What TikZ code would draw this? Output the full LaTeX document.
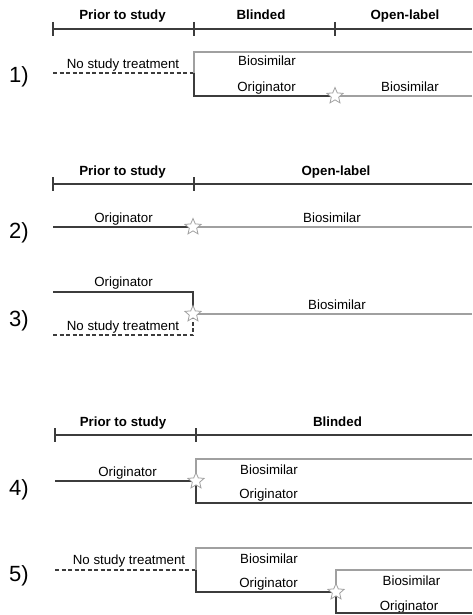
\documentclass[tikz,border=0pt]{standalone}
\usepackage{fontspec}
\setmainfont{Liberation Sans}
\usepackage{xcolor}
\usetikzlibrary{shapes.geometric, positioning}

\definecolor{darkline}{HTML}{3C3C3C}
\definecolor{lightline}{HTML}{A0A0A0}

\begin{document}
\begin{tikzpicture}[x=1pt, y=-1pt,
    hdr/.style={font=\bfseries\fontsize{13.3}{16}\selectfont, anchor=base, inner sep=0pt},
    lbl/.style={font=\fontsize{13.3}{16}\selectfont, anchor=base, inner sep=0pt},
    num/.style={font=\fontsize{22}{26}\selectfont, anchor=base west, inner sep=0pt},
    axis/.style={draw=darkline, line width=1.6pt},
    orig/.style={draw=darkline, line width=1.6pt},
    bios/.style={draw=lightline, line width=1.6pt},
    nostudy/.style={draw=darkline, line width=1.6pt, dash pattern=on 4pt off 2.5pt},
    swap/.style={star, star points=5, star point ratio=2.2, draw=lightline, fill=white, line width=0.8pt, minimum size=17pt, inner sep=0pt}]
    \useasboundingbox (0,0) rectangle (472,615);

    % Scenario 1: blinded then open-label
    \node[hdr] (h1a) at (122.5,20) {Prior to study};
    \node[hdr] (h1b) at (261,20) {Blinded};
    \node[hdr] (h1c) at (405,20) {Open-label};
    \draw[axis] (53,29) -- (472,29);
    \foreach \x in {53,194,335} \draw[axis] (\x,22) -- (\x,36);
    \node[num] (n1) at (9,83) {1)};
    \node[lbl] (l1a) at (123,68.5) {No study treatment};
    \node[lbl] (l1b) at (267,66) {Biosimilar};
    \node[lbl] (l1c) at (266.5,92) {Originator};
    \node[lbl] (l1d) at (410,92) {Biosimilar};
    \coordinate (a1) at (53,73);
    \coordinate (j1) at (194,73);
    \coordinate (b1) at (472,52);
    \coordinate (s1) at (335,96);
    \coordinate (e1) at (472,96);
    \draw[nostudy] (a1) -- (j1);
    \draw[bios] (j1) |- (b1);
    \draw[orig] (j1) |- (s1);
    \draw[bios] (s1) -- (e1);
    \node[swap] (st1) at (s1) {};

    % Scenario 2: switch at start of open-label
    \node[hdr] (h2a) at (122.5,175.5) {Prior to study};
    \node[hdr] (h2b) at (336,175.5) {Open-label};
    \draw[axis] (53,184) -- (472,184);
    \foreach \x in {53,194} \draw[axis] (\x,177) -- (\x,191);
    \node[num] (n2) at (9,238.5) {2)};
    \node[lbl] (l2a) at (123.5,222) {Originator};
    \node[lbl] (l2b) at (332,222) {Biosimilar};
    \coordinate (a2) at (53,227);
    \coordinate (s2) at (193,227);
    \coordinate (e2) at (472,227);
    \draw[orig] (a2) -- (s2);
    \draw[bios] (s2) -- (e2);
    \node[swap] (st2) at (s2) {};

    % Scenario 3
    \node[num] (n3) at (9,326.5) {3)};
    \node[lbl] (l3a) at (123.5,286.5) {Originator};
    \node[lbl] (l3b) at (337,309) {Biosimilar};
    \node[lbl] (l3c) at (123,330.5) {No study treatment};
    \coordinate (a3) at (53,292);
    \coordinate (d3) at (53,335);
    \coordinate (s3) at (193,314);
    \coordinate (e3) at (472,314);
    \draw[orig] (a3) -| (s3);
    \draw[nostudy] (d3) -| (s3);
    \draw[bios] (s3) -- (e3);
    \node[swap] (st3) at (s3) {};

    % Scenario 4: switch at randomisation
    \node[hdr] (h4a) at (123,426) {Prior to study};
    \node[hdr] (h4b) at (337.5,426) {Blinded};
    \draw[axis] (55,435) -- (472,435);
    \foreach \x in {55,196} \draw[axis] (\x,428) -- (\x,442);
    \node[num] (n4) at (9,495) {4)};
    \node[lbl] (l4a) at (127.5,476) {Originator};
    \node[lbl] (l4b) at (269,474) {Biosimilar};
    \node[lbl] (l4c) at (268.5,498.5) {Originator};
    \coordinate (a4) at (55,481);
    \coordinate (s4) at (196,481);
    \coordinate (b4) at (472,459);
    \coordinate (e4) at (472,503);
    \draw[orig] (a4) -- (s4);
    \draw[bios] (s4) |- (b4);
    \draw[orig] (s4) |- (e4);
    \node[swap] (st4) at (s4) {};

    % Scenario 5: re-randomisation
    \node[num] (n5) at (9,581.5) {5)};
    \node[lbl] (l5a) at (129,564.5) {No study treatment};
    \node[lbl] (l5b) at (269,563.5) {Biosimilar};
    \node[lbl] (l5c) at (268.5,587.5) {Originator};
    \node[lbl] (l5d) at (411.5,585) {Biosimilar};
    \node[lbl] (l5e) at (409,610) {Originator};
    \coordinate (a5) at (55,570);
    \coordinate (j5) at (196,570);
    \coordinate (b5) at (472,548);
    \coordinate (s5) at (336,592);
    \coordinate (c5) at (472,570);
    \coordinate (e5) at (472,613);
    \draw[nostudy] (a5) -- (j5);
    \draw[bios] (j5) |- (b5);
    \draw[orig] (j5) |- (s5);
    \draw[bios] (s5) |- (c5);
    \draw[orig] (s5) |- (e5);
    \node[swap] (st5) at (s5) {};
\end{tikzpicture}
\end{document}
